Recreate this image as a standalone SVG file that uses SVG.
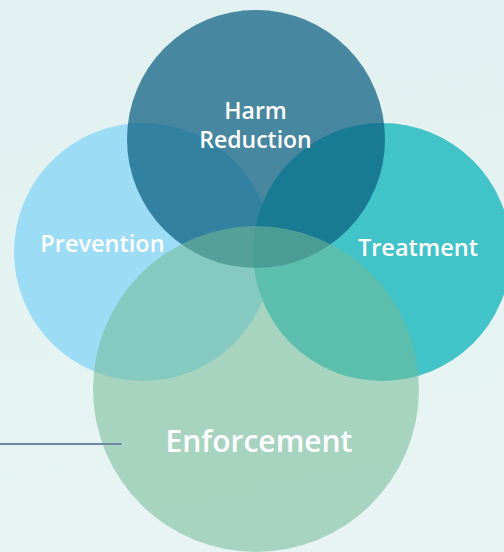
<svg xmlns="http://www.w3.org/2000/svg" width="504" height="552" viewBox="0 0 504 552">
  <defs>
    <linearGradient id="bg" x1="0" y1="0" x2="0.15" y2="1">
      <stop offset="0" stop-color="#e1f0f0"/>
      <stop offset="1" stop-color="#e7f4f3"/>
    </linearGradient>
    <style>
      .label { font-family: "Open Sans", "Liberation Sans", sans-serif; font-weight: 600; fill: #ffffff; text-anchor: middle; font-variant-ligatures: none; }
      .leader { stroke: #6e86a6; stroke-width: 2; fill: none; }
    </style>
  </defs>

  <rect x="0" y="0" width="504" height="552" fill="url(#bg)"/>

  <g id="prevention">
    <circle cx="143" cy="252" r="129" fill="#9ddcf5"/>
  </g>
  <g id="treatment">
    <circle cx="382" cy="252" r="129" fill="#41c3c8"/>
  </g>
  <g id="harm-reduction">
    <circle cx="256" cy="139" r="129" fill="#085c7f" fill-opacity="0.71"/>
  </g>
  <g id="enforcement">
    <circle cx="256" cy="389" r="163" fill="#73b996" fill-opacity="0.55"/>
  </g>

  <g id="labels">
    <text class="label" x="255.5" y="119" font-size="23">Harm</text>
    <text class="label" x="255.5" y="148.3" font-size="23">Reduction</text>
    <text class="label" x="102.5" y="252.3" font-size="23.5">Prevention</text>
    <text class="label" x="418" y="255.7" font-size="23.5">Treatment</text>
    <text class="label" x="259" y="452.3" font-size="30">Enforcement</text>
  </g>

  <g id="connectors">
    <line class="leader" x1="0" y1="444" x2="121.5" y2="444"/>
  </g>
</svg>
